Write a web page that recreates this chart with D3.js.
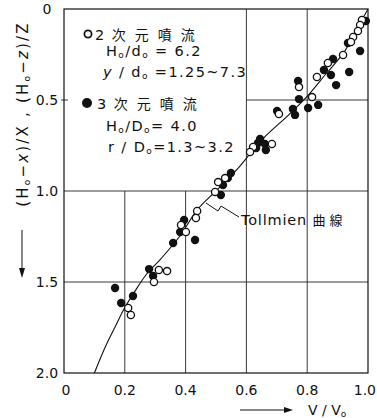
<!DOCTYPE html>
<html>
<head>
<meta charset="utf-8">
<script src="https://cdn.jsdelivr.net/npm/d3@7"></script>
<style>
  body { margin: 0; background: #fff; }
  svg { display: block; }
  text { font-family: "DejaVu Sans", sans-serif; fill: #111; }
  .jp { font-family: "Noto Sans CJK JP", sans-serif; }
</style>
</head>
<body>
<div id="chart"></div>
<script>
// Velocity profile of jets: V/V0 against (H0-x)/X, (H0-z)/Z

// 2D jet (open circles): [V/V0, (H0-x)/X]
const jet2d = [
  [0.980, 0.060], [0.974, 0.088], [0.967, 0.121], [0.951, 0.154], [0.944, 0.181],
  [0.918, 0.253], [0.868, 0.297], [0.832, 0.374], [0.773, 0.429], [0.816, 0.484],
  [0.707, 0.577], [0.684, 0.742], [0.622, 0.758], [0.612, 0.786], [0.530, 0.929],
  [0.507, 0.951], [0.497, 1.005], [0.438, 1.110], [0.434, 1.148], [0.385, 1.187],
  [0.401, 1.225], [0.312, 1.434], [0.339, 1.440], [0.296, 1.500], [0.211, 1.643],
  [0.220, 1.681]
];

// 3D jet (filled circles)
const jet3d = [
  [0.993, 0.066], [0.934, 0.187], [0.974, 0.231], [0.885, 0.275], [0.855, 0.335],
  [0.878, 0.363], [0.938, 0.346], [0.895, 0.418], [0.770, 0.396], [0.773, 0.495],
  [0.803, 0.544], [0.836, 0.527], [0.701, 0.560], [0.753, 0.549], [0.760, 0.582],
  [0.645, 0.714], [0.638, 0.736], [0.661, 0.742], [0.632, 0.764], [0.664, 0.775],
  [0.549, 0.901], [0.539, 0.929], [0.523, 0.967], [0.516, 1.022], [0.395, 1.159],
  [0.382, 1.225], [0.359, 1.286], [0.431, 1.269], [0.280, 1.429], [0.293, 1.467],
  [0.168, 1.533], [0.188, 1.615], [0.227, 1.577]
];

// Tollmien curve
const tollmien = [
  [1.00, 0.00], [0.96, 0.12], [0.92, 0.24], [0.86, 0.36], [0.80, 0.48],
  [0.74, 0.58], [0.65, 0.72], [0.57, 0.88], [0.50, 1.00], [0.44, 1.10],
  [0.38, 1.25], [0.32, 1.37], [0.27, 1.46], [0.23, 1.56], [0.20, 1.64],
  [0.17, 1.74], [0.135, 1.86], [0.10, 2.00]
];

const xTicks = [0, 0.2, 0.4, 0.6, 0.8, 1.0];
const yTicks = [0, 0.5, 1.0, 1.5, 2.0];
const xTickLabels = ['0', '0.2', '0.4', '0.6', '0.8', '1.0'];
const yTickLabels = ['0', '0.5', '1.0', '1.5', '2.0'];

const W = 377, H = 418;
const svg = d3.select('#chart').append('svg')
  .attr('width', W).attr('height', H);

const x = d3.scaleLinear().domain([0, 1]).range([64, 368]);
const y = d3.scaleLinear().domain([0, 2]).range([9, 373]);

const grid = svg.append('g').attr('stroke', '#222').attr('stroke-width', 0.9);

// vertical grid: 0.2, 0.4 only below 1.0; 0.6, 0.8 full height
[0.2, 0.4].forEach(v => {
  grid.append('line').attr('x1', x(v)).attr('x2', x(v)).attr('y1', y(1)).attr('y2', y(2));
});
[0.6, 0.8].forEach(v => {
  grid.append('line').attr('x1', x(v)).attr('x2', x(v)).attr('y1', y(0)).attr('y2', y(2));
});
// horizontal grid
[1.0, 1.5].forEach(v => {
  grid.append('line').attr('x1', x(0)).attr('x2', x(1)).attr('y1', y(v)).attr('y2', y(v));
});
grid.append('line').attr('x1', x(0.6)).attr('x2', x(1)).attr('y1', y(0.5)).attr('y2', y(0.5));
// small tick at 0.5 on the left axis
grid.append('line').attr('x1', x(0) - 3).attr('x2', x(0) + 4).attr('y1', y(0.5)).attr('y2', y(0.5));

// frame
svg.append('rect')
  .attr('x', x(0)).attr('y', y(0))
  .attr('width', x(1) - x(0)).attr('height', y(2) - y(0))
  .attr('fill', 'none').attr('stroke', '#111').attr('stroke-width', 1.2);

// tick labels
svg.append('g').selectAll('text')
  .data(xTicks)
  .join('text')
  .attr('x', (d, i) => i === 0 ? x(d) + 2 : (i === xTicks.length - 1 ? 376 : x(d)))
  .attr('y', 395)
  .attr('text-anchor', (d, i) => i === xTicks.length - 1 ? 'end' : 'middle')
  .attr('font-size', 14)
  .text((d, i) => xTickLabels[i]);

svg.append('g').selectAll('text')
  .data(yTicks)
  .join('text')
  .attr('x', 47)
  .attr('y', d => y(d) + 5)
  .attr('text-anchor', 'middle')
  .attr('font-size', 14)
  .text((d, i) => yTickLabels[i]);

// Tollmien curve
const line = d3.line()
  .x(d => x(d[0]))
  .y(d => y(d[1]))
  .curve(d3.curveCatmullRom);

svg.append('path')
  .datum(tollmien)
  .attr('d', line)
  .attr('fill', 'none')
  .attr('stroke', '#111')
  .attr('stroke-width', 1.1);

// points
svg.append('g').selectAll('circle')
  .data(jet3d)
  .join('circle')
  .attr('cx', d => x(d[0]))
  .attr('cy', d => y(d[1]))
  .attr('r', 4.2)
  .attr('fill', '#111');

svg.append('g').selectAll('circle')
  .data(jet2d)
  .join('circle')
  .attr('cx', d => x(d[0]))
  .attr('cy', d => y(d[1]))
  .attr('r', 3.6)
  .attr('fill', '#fff')
  .attr('stroke', '#111')
  .attr('stroke-width', 1.3);

// Tollmien label + zigzag leader
svg.append('path')
  .attr('d', 'M206,203 L218,211 L221,206 L239,217')
  .attr('fill', 'none')
  .attr('stroke', '#111')
  .attr('stroke-width', 1);
const tl = svg.append('text').attr('x', 241).attr('y', 225).attr('font-size', 14.5).attr('letter-spacing', 0.8);
tl.append('tspan').text('Tollmien ');
tl.append('tspan').attr('class', 'jp').attr('font-size', 13).attr('letter-spacing', 4).text('曲線');

// helper for "Ho"-style subscripts
function sub(t, s) {
  t.append('tspan').attr('font-size', 9).attr('dy', 2).text(s);
  return t.append('tspan').attr('dy', -2);
}

// legend
const lg = svg.append('g').attr('font-size', 14.5).attr('letter-spacing', 1.4);
lg.append('circle').attr('cx', 88).attr('cy', 34).attr('r', 3.6)
  .attr('fill', '#fff').attr('stroke', '#111').attr('stroke-width', 1.8);
let t = lg.append('text').attr('x', 95).attr('y', 40);
t.append('tspan').text('2 ');
t.append('tspan').attr('class', 'jp').attr('font-size', 14).attr('letter-spacing', 9).text('次元噴流');

t = lg.append('text').attr('x', 106).attr('y', 56);
t.append('tspan').text('H');
sub(t, 'o').text('/d');
sub(t, 'o').text(' = 6.2');

t = lg.append('text').attr('x', 103).attr('y', 77);
t.append('tspan').attr('font-style', 'italic').text('y');
t.append('tspan').text(' / d');
sub(t, 'o').text(' =1.25~7.3');

lg.append('circle').attr('cx', 87).attr('cy', 103).attr('r', 5).attr('fill', '#111');
t = lg.append('text').attr('x', 97).attr('y', 109);
t.append('tspan').text('3 ');
t.append('tspan').attr('class', 'jp').attr('font-size', 14).attr('letter-spacing', 9).text('次元噴流');

t = lg.append('text').attr('x', 106).attr('y', 131);
t.append('tspan').text('H');
sub(t, 'o').text('/D');
sub(t, 'o').text('= 4.0');

t = lg.append('text').attr('x', 108).attr('y', 152);
t.append('tspan').text('r / D');
sub(t, 'o').text('=1.3~3.2');

// x axis title
svg.append('line').attr('x1', 240).attr('x2', 290).attr('y1', 410).attr('y2', 410)
  .attr('stroke', '#111').attr('stroke-width', 1);
svg.append('path').attr('d', 'M293,410 L284,407 L284,413 Z').attr('fill', '#111');
t = svg.append('text').attr('x', 308).attr('y', 415).attr('font-size', 14)
  .attr('font-family', 'Liberation Serif, serif');
t.append('tspan').text('V / V');
t.append('tspan').attr('font-size', 9).attr('dy', 2).text('o');

// y axis title (rotated)
const yt = svg.append('text')
  .attr('transform', 'translate(28,114) rotate(-90)')
  .attr('text-anchor', 'middle')
  .attr('font-size', 15)
  .attr('letter-spacing', 2.2);
yt.append('tspan').text('(H');
sub(yt, 'o').text('−');
yt.append('tspan').attr('font-style', 'italic').text('x');
yt.append('tspan').text(')/X ,  (H');
sub(yt, 'o').text('−');
yt.append('tspan').attr('font-style', 'italic').text('z');
yt.append('tspan').text(')/Z');

svg.append('line').attr('x1', 22).attr('x2', 22).attr('y1', 230).attr('y2', 272)
  .attr('stroke', '#111').attr('stroke-width', 1);
svg.append('path').attr('d', 'M22,278 L19,268 L25,268 Z').attr('fill', '#111');
</script>
</body>
</html>
